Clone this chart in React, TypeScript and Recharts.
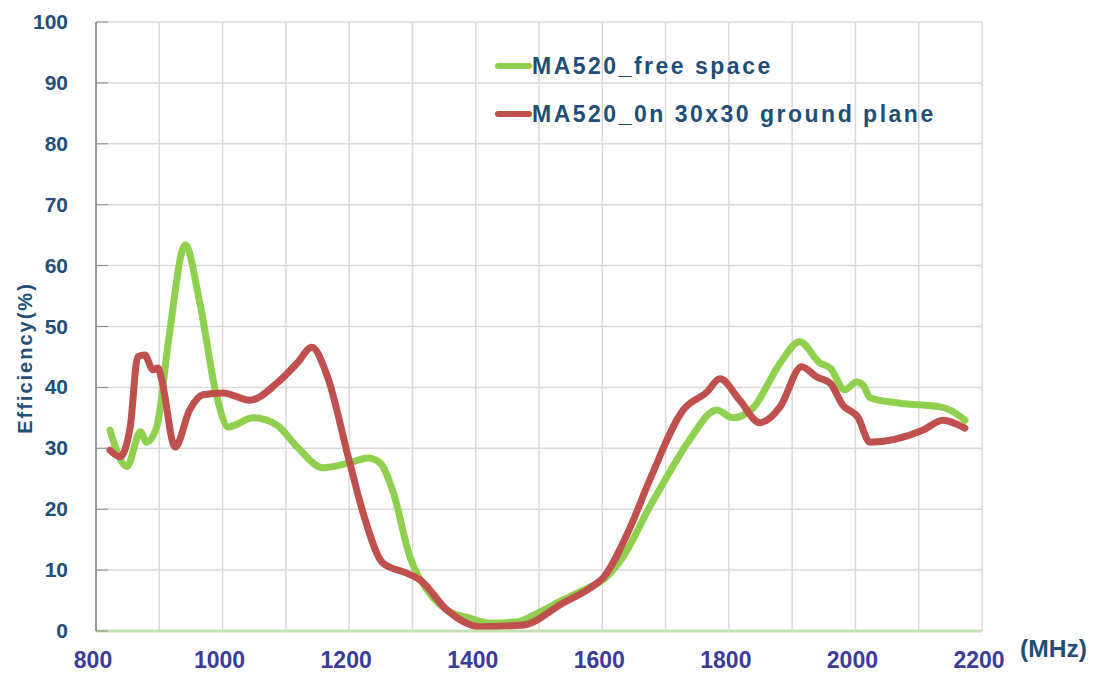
import { LineChart, Line, XAxis, YAxis, CartesianGrid } from "recharts"

const freeFreq = [822, 849, 870, 880, 896, 915, 941, 964, 991, 1009, 1048, 1086, 1118, 1159, 1200, 1230, 1249, 1269, 1296, 1327, 1355, 1391, 1423, 1465, 1497, 1538, 1580, 1601, 1633, 1675, 1702, 1738, 1781, 1806, 1838, 1881, 1912, 1944, 1960, 1983, 2002, 2012, 2023, 2070, 2134, 2149, 2173]
const freeEff = [33, 27, 32.7, 31, 33.5, 48, 63.4, 53.9, 38.4, 33.5, 35, 33.8, 30.2, 26.8, 27.6, 28.4, 27.6, 23, 12.2, 6.2, 3.4, 2.1, 1.3, 1.5, 2.9, 5.1, 7.2, 8.4, 12.2, 20.4, 25.3, 31.4, 36.3, 35, 36.6, 44, 47.5, 44, 43.2, 39.6, 40.9, 40.4, 38.3, 37.4, 36.8, 36.3, 34.6]

const groundFreq = [822, 838, 854, 866, 877, 890, 898, 904, 925, 948, 969, 1001, 1043, 1086, 1118, 1141, 1165, 1200, 1222, 1253, 1291, 1312, 1355, 1407, 1475, 1538, 1580, 1601, 1644, 1675, 1728, 1765, 1786, 1817, 1849, 1881, 1915, 1939, 1960, 1980, 2004, 2023, 2107, 2138, 2173]
const groundEff = [29.7, 28.6, 33.5, 45, 45.3, 42.9, 43.2, 41.2, 30.2, 36.3, 38.8, 39.1, 37.9, 40.7, 44, 46.6, 42, 28, 19.4, 11.2, 9.5, 8.4, 3.4, 0.7, 1, 4.6, 7, 8.7, 17, 24.8, 36.3, 39.2, 41.4, 37.9, 34.2, 36.8, 43.4, 41.7, 40.7, 37.1, 35.1, 31, 33, 34.6, 33.3]

const gridTicks = [800, 900, 1000, 1100, 1200, 1300, 1400, 1500, 1600, 1700, 1800, 1900, 2000, 2100, 2200]
const labelTicks = [800, 1000, 1200, 1400, 1600, 1800, 2000, 2200]
const yTicks = [0, 10, 20, 30, 40, 50, 60, 70, 80, 90, 100]
const seriesNames = ["MA520_free space", "MA520_0n 30x30 ground plane"]

const freeSpace = freeFreq.map((f, i) => ({ f, v: freeEff[i] }))
const groundPlane = groundFreq.map((f, i) => ({ f, v: groundEff[i] }))

const GREEN = "#8fd14f"
const RED = "#c0504d"
const NAVY = "#1f4e79"
const FONT = "'Liberation Sans', Arial, sans-serif"

function XTick(props: any) {
  const { x, y, payload } = props
  if (!labelTicks.includes(payload.value)) return null
  return (
    <text x={x - 3} y={y + 31} textAnchor="middle" fill="#3b3b9c" fontSize={23} fontWeight="bold" fontFamily={FONT}>
      {payload.value}
    </text>
  )
}

function YTick(props: any) {
  const { x, y, payload } = props
  return (
    <g>
      <line x1={x + 28} x2={x + 40} y1={y} y2={y} stroke="#8c8c8c" strokeWidth={1} />
      <text x={x} y={y + 7} textAnchor="end" fill={NAVY} fontSize={21} fontWeight="bold" fontFamily={FONT}>
        {payload.value}
      </text>
    </g>
  )
}

export default function App() {
  const colors = [GREEN, RED]
  return (
    <div style={{ position: "absolute", left: 0, top: 0, width: 1094, height: 687, background: "#fff" }}>
      <LineChart width={1094} height={687} margin={{ top: 22, right: 112, bottom: 0, left: 0 }}>
        <CartesianGrid stroke="#d9d9d9" strokeWidth={1.5} verticalValues={gridTicks} horizontalValues={yTicks} />
        <XAxis
          type="number"
          dataKey="f"
          domain={[800, 2200]}
          ticks={gridTicks}
          interval={0}
          height={56}
          tickLine={false}
          tickSize={0}
          tickMargin={6}
          axisLine={{ stroke: "#c5e0b3", strokeWidth: 3 }}
          tick={<XTick />}
          allowDuplicatedCategory={false}
        />
        <YAxis
          type="number"
          domain={[0, 100]}
          ticks={yTicks}
          interval={0}
          width={96}
          tickLine={false}
          tickSize={0}
          tickMargin={28}
          axisLine={{ stroke: "#7f7f7f", strokeWidth: 1.5 }}
          tick={<YTick />}
        />
        <Line data={freeSpace} dataKey="v" name={seriesNames[0]} type="monotone" stroke={GREEN}
          strokeWidth={7} dot={false} isAnimationActive={false} strokeLinecap="round" strokeLinejoin="round" />
        <Line data={groundPlane} dataKey="v" name={seriesNames[1]} type="monotone" stroke={RED}
          strokeWidth={7} dot={false} isAnimationActive={false} strokeLinecap="round" strokeLinejoin="round" />
        <text x={0} y={0} transform="translate(1020, 657) scale(1.07, 1)" fill={NAVY} fontSize={23} fontWeight="bold"
          fontFamily={FONT}>
          (MHz)
        </text>
        <text x={0} y={0} transform="translate(32, 358) rotate(-90)" textAnchor="middle" fill={NAVY}
          fontSize={20} fontWeight="bold" letterSpacing={2} fontFamily={FONT}>
          Efficiency(%)
        </text>
      </LineChart>
      <div style={{ position: "absolute", left: 495, top: 42, fontFamily: FONT }}>
        {seriesNames.map((name, i) => (
          <div key={name} style={{ display: "flex", alignItems: "center", height: 48 }}>
            <div style={{ width: 37, height: 6, borderRadius: 3, background: colors[i] }} />
            <span style={{ color: NAVY, fontWeight: "bold", fontSize: 23, letterSpacing: 2.5 }}>{name}</span>
          </div>
        ))}
      </div>
    </div>
  )
}
